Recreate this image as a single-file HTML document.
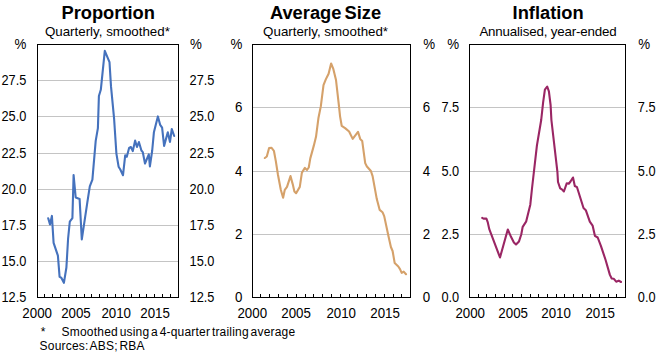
<!DOCTYPE html>
<html><head><meta charset="utf-8"><style>
html,body{margin:0;padding:0;background:#fff;}
body{width:658px;height:352px;overflow:hidden;position:relative;}
svg{position:absolute;left:0;top:0;}
text{font-family:"Liberation Sans",sans-serif;fill:#000;}
.t{font-size:18.3px;font-weight:bold;}
.s{font-size:13.33px;}
.f{font-size:12px;letter-spacing:0.2px;word-spacing:-1.8px;}
</style></head><body>
<svg width="658" height="352" viewBox="0 0 658 352">
<line x1="38" y1="80.5" x2="178" y2="80.5" stroke="#C4C4C4" stroke-width="1"/>
<line x1="38" y1="116.5" x2="178" y2="116.5" stroke="#C4C4C4" stroke-width="1"/>
<line x1="38" y1="153.5" x2="178" y2="153.5" stroke="#C4C4C4" stroke-width="1"/>
<line x1="38" y1="189.5" x2="178" y2="189.5" stroke="#C4C4C4" stroke-width="1"/>
<line x1="38" y1="225.5" x2="178" y2="225.5" stroke="#C4C4C4" stroke-width="1"/>
<line x1="38" y1="261.5" x2="178" y2="261.5" stroke="#C4C4C4" stroke-width="1"/>
<line x1="44.5" y1="294" x2="44.5" y2="297" stroke="#000" stroke-width="1"/>
<line x1="52.5" y1="294" x2="52.5" y2="297" stroke="#000" stroke-width="1"/>
<line x1="60.5" y1="294" x2="60.5" y2="297" stroke="#000" stroke-width="1"/>
<line x1="68.5" y1="294" x2="68.5" y2="297" stroke="#000" stroke-width="1"/>
<line x1="76.5" y1="294" x2="76.5" y2="297" stroke="#000" stroke-width="1"/>
<line x1="84.5" y1="294" x2="84.5" y2="297" stroke="#000" stroke-width="1"/>
<line x1="91.5" y1="294" x2="91.5" y2="297" stroke="#000" stroke-width="1"/>
<line x1="99.5" y1="294" x2="99.5" y2="297" stroke="#000" stroke-width="1"/>
<line x1="107.5" y1="294" x2="107.5" y2="297" stroke="#000" stroke-width="1"/>
<line x1="115.5" y1="294" x2="115.5" y2="297" stroke="#000" stroke-width="1"/>
<line x1="123.5" y1="294" x2="123.5" y2="297" stroke="#000" stroke-width="1"/>
<line x1="131.5" y1="294" x2="131.5" y2="297" stroke="#000" stroke-width="1"/>
<line x1="139.5" y1="294" x2="139.5" y2="297" stroke="#000" stroke-width="1"/>
<line x1="146.5" y1="294" x2="146.5" y2="297" stroke="#000" stroke-width="1"/>
<line x1="154.5" y1="294" x2="154.5" y2="297" stroke="#000" stroke-width="1"/>
<line x1="162.5" y1="294" x2="162.5" y2="297" stroke="#000" stroke-width="1"/>
<line x1="170.5" y1="294" x2="170.5" y2="297" stroke="#000" stroke-width="1"/>
<polyline points="48.20,218.20 50.00,224.40 51.90,215.90 53.60,242.80 57.90,255.60 59.60,276.90 61.30,277.70 63.90,282.80 66.40,267.50 68.10,238.50 69.80,221.60 72.40,218.20 73.60,175.00 75.70,197.50 79.60,198.90 81.80,239.40 87.30,202.60 89.80,186.40 92.40,179.60 95.70,140.90 97.90,128.10 98.90,96.00 100.80,89.80 104.80,50.80 109.50,62.20 111.00,86.40 114.10,118.70 116.40,153.60 118.60,166.70 120.30,169.50 123.00,175.20 125.20,155.30 126.80,156.80 129.10,148.00 130.90,147.00 132.80,151.10 135.10,140.60 137.00,147.00 138.90,142.00 141.40,150.50 142.80,152.20 145.00,163.50 148.80,154.40 149.90,166.40 152.20,150.50 153.90,132.30 155.60,125.50 157.90,116.40 160.20,124.90 162.10,127.70 164.10,145.90 167.80,132.30 170.00,141.90 171.80,129.00 174.20,136.00" fill="none" stroke="#4572BD" stroke-width="2.1" stroke-linejoin="round" stroke-linecap="round"/>
<rect x="37.5" y="44.5" width="141" height="253" fill="none" stroke="#000" stroke-width="1"/>
<line x1="253" y1="107.5" x2="410" y2="107.5" stroke="#C4C4C4" stroke-width="1"/>
<line x1="253" y1="171.5" x2="410" y2="171.5" stroke="#C4C4C4" stroke-width="1"/>
<line x1="253" y1="234.5" x2="410" y2="234.5" stroke="#C4C4C4" stroke-width="1"/>
<line x1="260.5" y1="294" x2="260.5" y2="297" stroke="#000" stroke-width="1"/>
<line x1="269.5" y1="294" x2="269.5" y2="297" stroke="#000" stroke-width="1"/>
<line x1="278.5" y1="294" x2="278.5" y2="297" stroke="#000" stroke-width="1"/>
<line x1="287.5" y1="294" x2="287.5" y2="297" stroke="#000" stroke-width="1"/>
<line x1="296.5" y1="294" x2="296.5" y2="297" stroke="#000" stroke-width="1"/>
<line x1="305.5" y1="294" x2="305.5" y2="297" stroke="#000" stroke-width="1"/>
<line x1="313.5" y1="294" x2="313.5" y2="297" stroke="#000" stroke-width="1"/>
<line x1="322.5" y1="294" x2="322.5" y2="297" stroke="#000" stroke-width="1"/>
<line x1="331.5" y1="294" x2="331.5" y2="297" stroke="#000" stroke-width="1"/>
<line x1="340.5" y1="294" x2="340.5" y2="297" stroke="#000" stroke-width="1"/>
<line x1="349.5" y1="294" x2="349.5" y2="297" stroke="#000" stroke-width="1"/>
<line x1="357.5" y1="294" x2="357.5" y2="297" stroke="#000" stroke-width="1"/>
<line x1="366.5" y1="294" x2="366.5" y2="297" stroke="#000" stroke-width="1"/>
<line x1="375.5" y1="294" x2="375.5" y2="297" stroke="#000" stroke-width="1"/>
<line x1="384.5" y1="294" x2="384.5" y2="297" stroke="#000" stroke-width="1"/>
<line x1="393.5" y1="294" x2="393.5" y2="297" stroke="#000" stroke-width="1"/>
<line x1="401.5" y1="294" x2="401.5" y2="297" stroke="#000" stroke-width="1"/>
<polyline points="264.80,158.00 266.80,156.50 269.10,148.00 271.40,147.70 273.90,150.80 275.90,161.60 278.00,175.00 280.80,189.80 283.10,197.70 284.80,189.80 287.00,186.90 290.50,176.10 292.70,184.10 294.40,191.50 296.10,193.20 299.80,186.90 301.90,172.60 304.90,167.90 307.00,170.00 308.75,167.50 310.30,158.40 313.75,145.90 316.00,136.80 318.50,117.70 320.80,106.40 323.50,85.10 325.80,79.40 328.60,73.75 331.10,63.50 333.20,68.60 336.00,80.00 339.00,106.40 340.10,116.60 341.70,125.80 345.10,128.10 349.10,131.50 352.70,138.90 358.00,131.80 360.20,138.90 362.20,140.90 365.20,163.10 366.90,166.50 370.90,171.00 372.60,176.10 376.80,199.10 379.70,209.90 382.50,212.20 384.20,216.10 388.60,236.80 390.90,247.00 392.60,251.00 394.70,263.10 398.30,266.50 400.00,269.10 401.70,272.90 403.70,271.60 406.00,274.20" fill="none" stroke="#D5A16A" stroke-width="2.1" stroke-linejoin="round" stroke-linecap="round"/>
<rect x="252.5" y="44.5" width="158" height="253" fill="none" stroke="#000" stroke-width="1"/>
<line x1="470" y1="107.5" x2="625" y2="107.5" stroke="#C4C4C4" stroke-width="1"/>
<line x1="470" y1="171.5" x2="625" y2="171.5" stroke="#C4C4C4" stroke-width="1"/>
<line x1="470" y1="234.5" x2="625" y2="234.5" stroke="#C4C4C4" stroke-width="1"/>
<line x1="478.5" y1="294" x2="478.5" y2="297" stroke="#000" stroke-width="1"/>
<line x1="486.5" y1="294" x2="486.5" y2="297" stroke="#000" stroke-width="1"/>
<line x1="495.5" y1="294" x2="495.5" y2="297" stroke="#000" stroke-width="1"/>
<line x1="504.5" y1="294" x2="504.5" y2="297" stroke="#000" stroke-width="1"/>
<line x1="512.5" y1="294" x2="512.5" y2="297" stroke="#000" stroke-width="1"/>
<line x1="521.5" y1="294" x2="521.5" y2="297" stroke="#000" stroke-width="1"/>
<line x1="530.5" y1="294" x2="530.5" y2="297" stroke="#000" stroke-width="1"/>
<line x1="538.5" y1="294" x2="538.5" y2="297" stroke="#000" stroke-width="1"/>
<line x1="547.5" y1="294" x2="547.5" y2="297" stroke="#000" stroke-width="1"/>
<line x1="556.5" y1="294" x2="556.5" y2="297" stroke="#000" stroke-width="1"/>
<line x1="564.5" y1="294" x2="564.5" y2="297" stroke="#000" stroke-width="1"/>
<line x1="573.5" y1="294" x2="573.5" y2="297" stroke="#000" stroke-width="1"/>
<line x1="582.5" y1="294" x2="582.5" y2="297" stroke="#000" stroke-width="1"/>
<line x1="590.5" y1="294" x2="590.5" y2="297" stroke="#000" stroke-width="1"/>
<line x1="599.5" y1="294" x2="599.5" y2="297" stroke="#000" stroke-width="1"/>
<line x1="608.5" y1="294" x2="608.5" y2="297" stroke="#000" stroke-width="1"/>
<line x1="616.5" y1="294" x2="616.5" y2="297" stroke="#000" stroke-width="1"/>
<polyline points="482.20,217.90 483.50,218.60 486.40,218.60 487.70,222.00 489.20,228.90 490.90,233.40 500.00,257.50 507.80,229.50 511.00,236.80 513.90,242.50 516.00,244.50 519.00,241.40 521.25,234.50 522.70,226.80 526.10,221.70 530.30,204.70 532.00,188.50 536.90,145.60 541.20,120.00 543.10,102.70 544.90,89.70 547.20,86.50 548.90,91.40 550.60,105.00 551.40,120.00 557.40,171.80 558.00,182.00 560.20,188.30 561.90,189.40 563.90,191.50 566.80,183.20 568.75,183.75 570.50,181.50 573.00,177.50 574.80,186.00 577.00,187.20 583.50,208.00 585.80,210.20 589.80,221.60 592.60,225.60 594.90,235.80 597.70,237.50 600.90,245.90 605.60,260.00 609.90,274.90 611.70,278.50 613.85,278.80 616.20,281.70 618.80,280.60 621.00,282.00" fill="none" stroke="#9A2664" stroke-width="2.1" stroke-linejoin="round" stroke-linecap="round"/>
<rect x="469.5" y="44.5" width="156" height="253" fill="none" stroke="#000" stroke-width="1"/>
<text x="108.2" y="19" class="t" text-anchor="middle" style="">Proportion</text>
<text x="107.4" y="36" class="s" text-anchor="middle" style="">Quarterly, smoothed*</text>
<text transform="translate(26.30,49.00) scale(1.0,1.06)" class="s" text-anchor="end">%</text>
<text transform="translate(190.00,49.00) scale(1.0,1.06)" class="s" text-anchor="start">%</text>
<text transform="translate(26.30,302.30) scale(0.96,1.06)" class="s" text-anchor="end">12.5</text>
<text transform="translate(189.60,302.30) scale(0.96,1.06)" class="s" text-anchor="start">12.5</text>
<text transform="translate(26.30,266.30) scale(0.96,1.06)" class="s" text-anchor="end">15.0</text>
<text transform="translate(189.60,266.30) scale(0.96,1.06)" class="s" text-anchor="start">15.0</text>
<text transform="translate(26.30,230.30) scale(0.96,1.06)" class="s" text-anchor="end">17.5</text>
<text transform="translate(189.60,230.30) scale(0.96,1.06)" class="s" text-anchor="start">17.5</text>
<text transform="translate(26.30,194.30) scale(0.96,1.06)" class="s" text-anchor="end">20.0</text>
<text transform="translate(189.60,194.30) scale(0.96,1.06)" class="s" text-anchor="start">20.0</text>
<text transform="translate(26.30,158.30) scale(0.96,1.06)" class="s" text-anchor="end">22.5</text>
<text transform="translate(189.60,158.30) scale(0.96,1.06)" class="s" text-anchor="start">22.5</text>
<text transform="translate(26.30,121.30) scale(0.96,1.06)" class="s" text-anchor="end">25.0</text>
<text transform="translate(189.60,121.30) scale(0.96,1.06)" class="s" text-anchor="start">25.0</text>
<text transform="translate(26.30,85.30) scale(0.96,1.06)" class="s" text-anchor="end">27.5</text>
<text transform="translate(189.60,85.30) scale(0.96,1.06)" class="s" text-anchor="start">27.5</text>
<text transform="translate(37.15,318.00) scale(1.0,1.06)" class="s" text-anchor="middle">2000</text>
<text transform="translate(75.95,318.00) scale(1.0,1.06)" class="s" text-anchor="middle">2005</text>
<text transform="translate(116.20,318.00) scale(1.0,1.06)" class="s" text-anchor="middle">2010</text>
<text transform="translate(155.10,318.00) scale(1.0,1.06)" class="s" text-anchor="middle">2015</text>
<text x="325.5" y="19" class="t" text-anchor="middle" style="word-spacing:-2px">Average Size</text>
<text x="325.6" y="36" class="s" text-anchor="middle" style="">Quarterly, smoothed*</text>
<text transform="translate(242.30,49.00) scale(1.0,1.06)" class="s" text-anchor="end">%</text>
<text transform="translate(423.20,49.00) scale(1.0,1.06)" class="s" text-anchor="start">%</text>
<text transform="translate(242.30,302.30) scale(1.0,1.06)" class="s" text-anchor="end">0</text>
<text transform="translate(422.80,302.30) scale(1.0,1.06)" class="s" text-anchor="start">0</text>
<text transform="translate(242.30,239.30) scale(1.0,1.06)" class="s" text-anchor="end">2</text>
<text transform="translate(422.80,239.30) scale(1.0,1.06)" class="s" text-anchor="start">2</text>
<text transform="translate(242.30,176.30) scale(1.0,1.06)" class="s" text-anchor="end">4</text>
<text transform="translate(422.80,176.30) scale(1.0,1.06)" class="s" text-anchor="start">4</text>
<text transform="translate(242.30,112.30) scale(1.0,1.06)" class="s" text-anchor="end">6</text>
<text transform="translate(422.80,112.30) scale(1.0,1.06)" class="s" text-anchor="start">6</text>
<text transform="translate(252.25,318.00) scale(1.0,1.06)" class="s" text-anchor="middle">2000</text>
<text transform="translate(296.05,318.00) scale(1.0,1.06)" class="s" text-anchor="middle">2005</text>
<text transform="translate(341.20,318.00) scale(1.0,1.06)" class="s" text-anchor="middle">2010</text>
<text transform="translate(385.10,318.00) scale(1.0,1.06)" class="s" text-anchor="middle">2015</text>
<text x="548.1" y="19" class="t" text-anchor="middle" style="">Inflation</text>
<text x="547.9" y="36" class="s" text-anchor="middle" style="letter-spacing:-0.17px">Annualised, year-ended</text>
<text transform="translate(459.20,49.00) scale(1.0,1.06)" class="s" text-anchor="end">%</text>
<text transform="translate(638.20,49.00) scale(1.0,1.06)" class="s" text-anchor="start">%</text>
<text transform="translate(459.20,302.30) scale(0.96,1.06)" class="s" text-anchor="end">0.0</text>
<text transform="translate(637.80,302.30) scale(0.96,1.06)" class="s" text-anchor="start">0.0</text>
<text transform="translate(459.20,239.30) scale(0.96,1.06)" class="s" text-anchor="end">2.5</text>
<text transform="translate(637.80,239.30) scale(0.96,1.06)" class="s" text-anchor="start">2.5</text>
<text transform="translate(459.20,176.30) scale(0.96,1.06)" class="s" text-anchor="end">5.0</text>
<text transform="translate(637.80,176.30) scale(0.96,1.06)" class="s" text-anchor="start">5.0</text>
<text transform="translate(459.20,112.30) scale(0.96,1.06)" class="s" text-anchor="end">7.5</text>
<text transform="translate(637.80,112.30) scale(0.96,1.06)" class="s" text-anchor="start">7.5</text>
<text transform="translate(470.20,318.00) scale(1.0,1.06)" class="s" text-anchor="middle">2000</text>
<text transform="translate(513.15,318.00) scale(1.0,1.06)" class="s" text-anchor="middle">2005</text>
<text transform="translate(556.05,318.00) scale(1.0,1.06)" class="s" text-anchor="middle">2010</text>
<text transform="translate(600.20,318.00) scale(1.0,1.06)" class="s" text-anchor="middle">2015</text>
<text x="40.8" y="336" class="f">*</text>
<text x="61.6" y="336" class="f">Smoothed using a 4-quarter trailing average</text>
<text x="39.6" y="349.5" class="f">Sources: ABS; RBA</text>
</svg>
</body></html>
